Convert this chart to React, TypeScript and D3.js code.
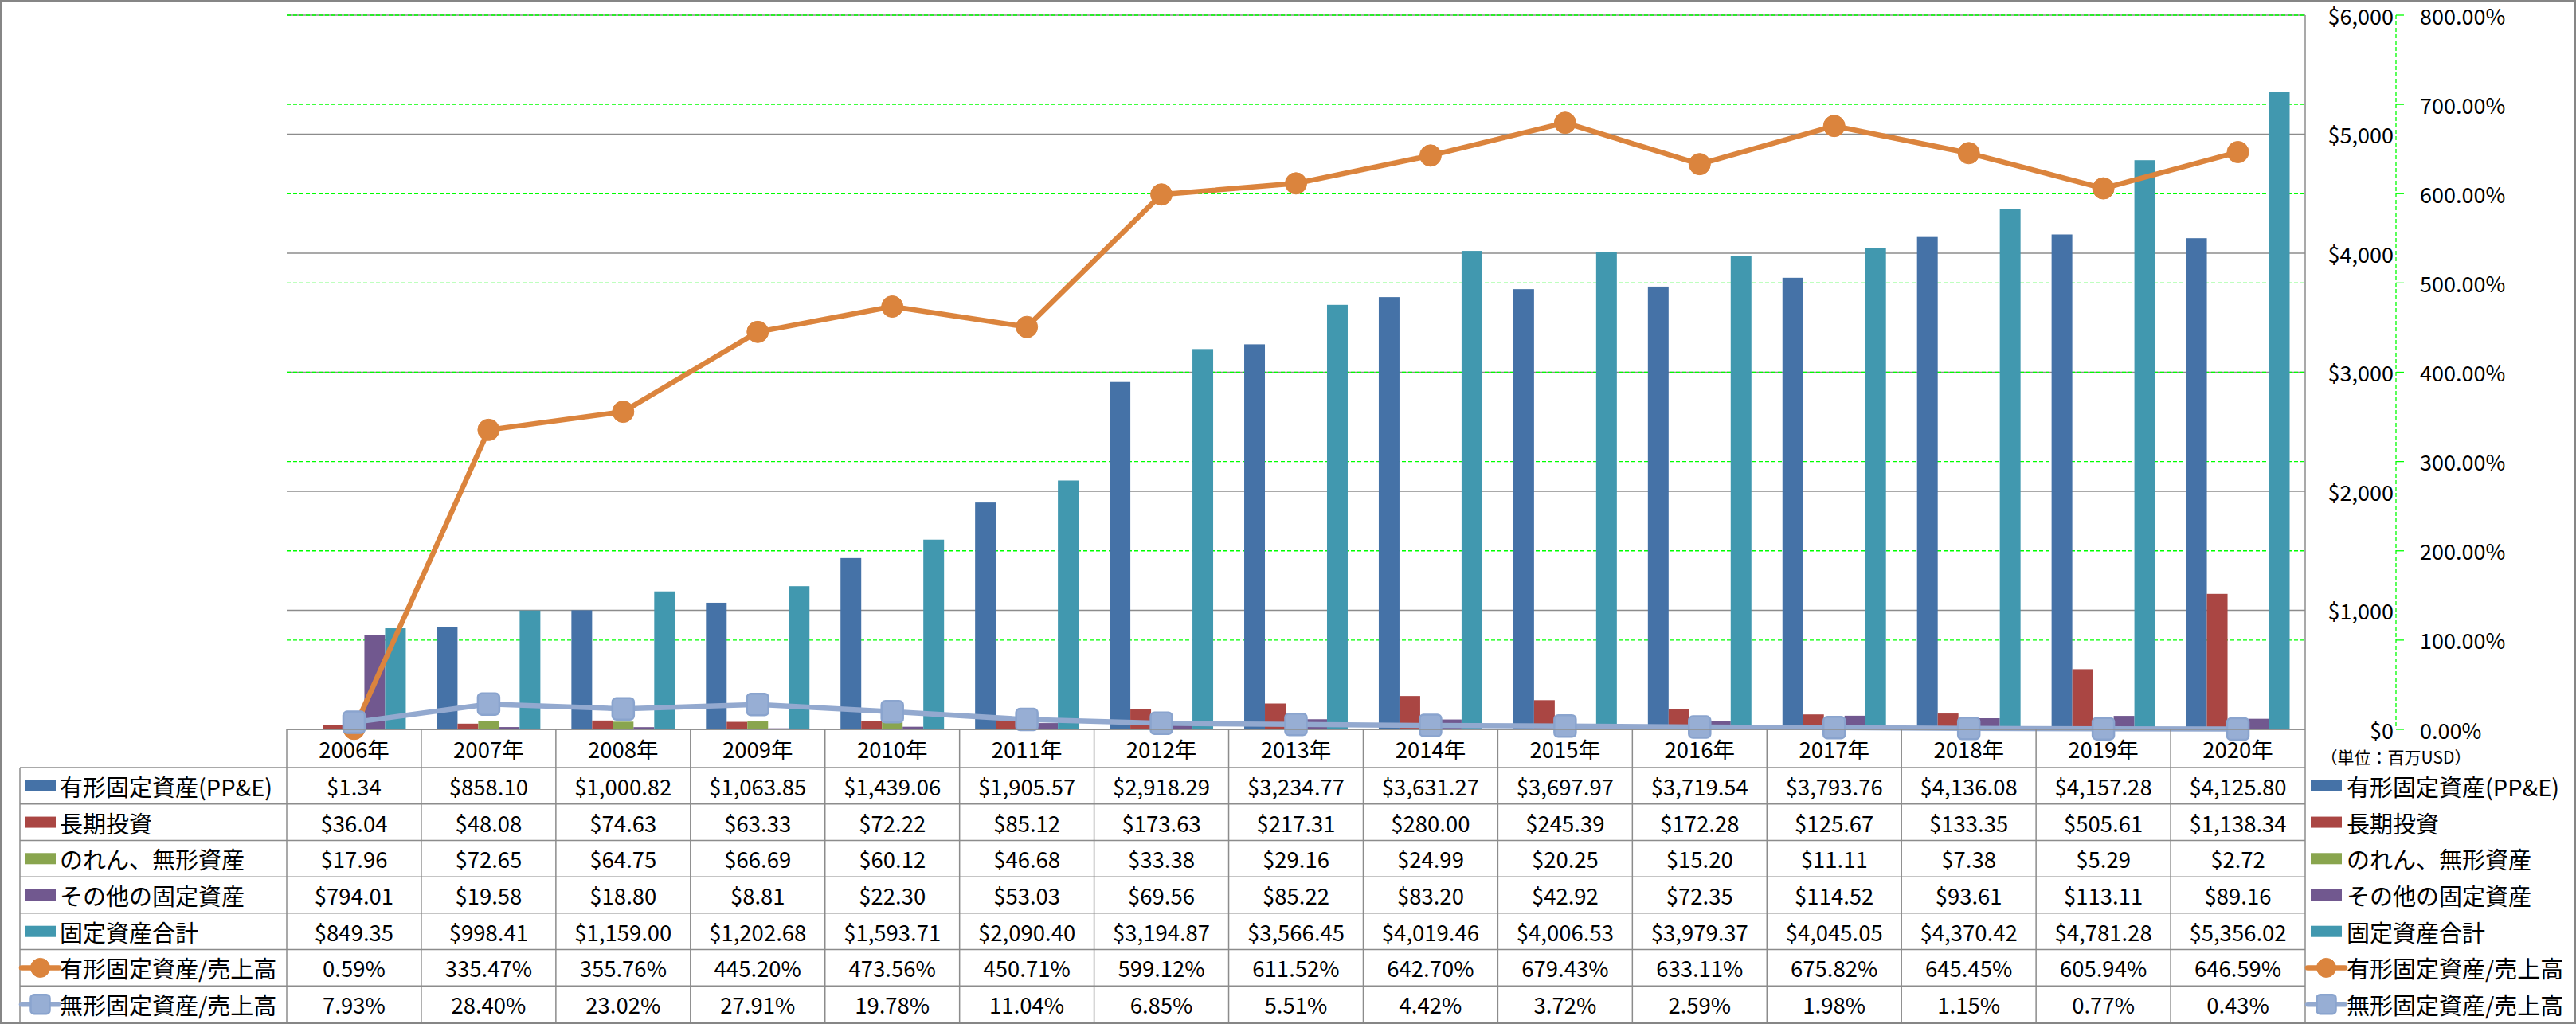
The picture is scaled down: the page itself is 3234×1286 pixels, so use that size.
import React from 'react';
import * as d3 from 'd3';

const years = ['2006年','2007年','2008年','2009年','2010年','2011年','2012年','2013年','2014年','2015年','2016年','2017年','2018年','2019年','2020年'];
const ppe = [1.34,858.10,1000.82,1063.85,1439.06,1905.57,2918.29,3234.77,3631.27,3697.97,3719.54,3793.76,4136.08,4157.28,4125.80];
const longInv = [36.04,48.08,74.63,63.33,72.22,85.12,173.63,217.31,280.00,245.39,172.28,125.67,133.35,505.61,1138.34];
const goodwill = [17.96,72.65,64.75,66.69,60.12,46.68,33.38,29.16,24.99,20.25,15.20,11.11,7.38,5.29,2.72];
const otherFixed = [794.01,19.58,18.80,8.81,22.30,53.03,69.56,85.22,83.20,42.92,72.35,114.52,93.61,113.11,89.16];
const totalFixed = [849.35,998.41,1159.00,1202.68,1593.71,2090.40,3194.87,3566.45,4019.46,4006.53,3979.37,4045.05,4370.42,4781.28,5356.02];
const ppeRatio = [0.59,335.47,355.76,445.20,473.56,450.71,599.12,611.52,642.70,679.43,633.11,675.82,645.45,605.94,646.59];
const intangRatio = [7.93,28.40,23.02,27.91,19.78,11.04,6.85,5.51,4.42,3.72,2.59,1.98,1.15,0.77,0.43];
const leftTicks = [0,1000,2000,3000,4000,5000,6000];
const rightTicks = [0,100,200,300,400,500,600,700,800];

const barSeries = [
  { name: '有形固定資産(PP&E)', color: '#4572A7', values: ppe },
  { name: '長期投資', color: '#AA4643', values: longInv },
  { name: 'のれん、無形資産', color: '#89A54E', values: goodwill },
  { name: 'その他の固定資産', color: '#71588F', values: otherFixed },
  { name: '固定資産合計', color: '#4198AF', values: totalFixed },
];
const lineSeries = [
  { name: '有形固定資産/売上高', color: '#DB843D', values: ppeRatio, marker: 'circle' },
  { name: '無形固定資産/売上高', color: '#93A9CF', values: intangRatio, marker: 'square' },
];

const W = 3234, H = 1286;
const PL = 360, PR = 2894, PT = 19, PB = 916;
const TABLE_BOTTOM = 1284;
const FONT = '"Noto Sans CJK JP", "Noto Sans", sans-serif';

function Marker({ kind, cx, cy, size, color }: any) {
  if (kind === 'circle') {
    return <circle cx={cx} cy={cy} r={size / 2} fill={color} stroke={color} strokeWidth={1} />;
  }
  return <rect x={cx - size / 2} y={cy - size / 2} width={size} height={size} rx={size * 0.18} fill="#97AED4" stroke="#8AA4CE" strokeWidth={2.5} />;
}

export default function App() {
  const x = d3.scaleBand<string>().domain(years).range([PL, PR]);
  const xb = d3.scaleBand<number>().domain(d3.range(barSeries.length)).range([0, x.bandwidth()]).paddingOuter(0.75);
  const y = d3.scaleLinear().domain([0, 6000]).range([PB, PT]);
  const y2 = d3.scaleLinear().domain([0, 800]).range([PB, PT]);
  const fmtD = d3.format('$,.2f');
  const fmtP = (v: number) => d3.format('.2f')(v) + '%';

  const rows = [
    ...barSeries.map(s => ({ name: s.name, type: 'bar', color: s.color, marker: '', texts: s.values.map(fmtD) })),
    ...lineSeries.map(s => ({ name: s.name, type: 'line', color: s.color, marker: s.marker, texts: s.values.map(fmtP) })),
  ];
  const ry = d3.scaleBand<string>().domain(rows.map(r => r.name)).range([964, TABLE_BOTTOM]);
  const cx = (i: number) => (x(years[i]) as number) + x.bandwidth() / 2;
  const gridColor = '#8C8C8C';

  const legendSymbol = (r: any, x0: number, cy: number) => {
    if (r.type === 'bar') return <rect x={x0} y={cy - 7} width={39} height={14} fill={r.color} />;
    return (
      <g>
        <line x1={x0 - 4} x2={x0 + 43} y1={cy} y2={cy} stroke={r.color} strokeWidth={6.5} strokeLinecap="round" />
        <Marker kind={r.marker} cx={x0 + 19.5} cy={cy} size={24} color={r.color} />
      </g>
    );
  };

  return (
    <div>
      <style>{`html,body{margin:0;padding:0;overflow:hidden;background:#fff}`}</style>
      <svg width={W} height={H} style={{ display: 'block', fontFamily: FONT }}>
        <rect x={0} y={0} width={W} height={H} fill="#fff" />
        {leftTicks.map(t => (
          <line key={'g' + t} x1={PL} x2={PR} y1={y(t)} y2={y(t)} stroke={gridColor} strokeWidth={1.3} />
        ))}
        {rightTicks.filter(t => t > 0).map(t => (
          <line key={'p' + t} x1={PL} x2={PR} y1={y2(t)} y2={y2(t)} stroke="#00FF00" strokeWidth={1.3} strokeDasharray="5,3" />
        ))}
        {barSeries.map((s, si) => (
          <g key={s.name}>
            {s.values.map((v, i) => (
              <rect key={i} x={(x(years[i]) as number) + (xb(si) as number)} y={y(v)} width={xb.bandwidth()} height={PB - y(v)} fill={s.color} />
            ))}
          </g>
        ))}
        <line x1={PR} x2={PR} y1={PT} y2={TABLE_BOTTOM} stroke={gridColor} strokeWidth={1.5} />
        {lineSeries.map(s => {
          const path = d3.line<number>().x((_, i) => cx(i)).y(v => y2(v))(s.values) as string;
          return (
            <g key={s.name}>
              <path d={path} fill="none" stroke={s.color} strokeWidth={6.5} strokeLinejoin="round" />
              {s.values.map((v, i) => (
                <Marker key={i} kind={s.marker} cx={cx(i)} cy={y2(v)} size={27} color={s.color} />
              ))}
            </g>
          );
        })}
        {leftTicks.map(t => (
          <text key={'l' + t} x={3005} y={y(t)} textAnchor="end" dominantBaseline="central" fontSize={27} fill="#000">
            {d3.format('$,')(t)}
          </text>
        ))}
        <line x1={3008} x2={3008} y1={PT} y2={PB} stroke="#00FF00" strokeWidth={1.3} strokeDasharray="5,3" />
        {rightTicks.map(t => (
          <g key={'r' + t}>
            <line x1={3008} x2={3018} y1={y2(t)} y2={y2(t)} stroke="#00FF00" strokeWidth={1.3} />
            <text x={3038} y={y2(t)} dominantBaseline="central" fontSize={27} fill="#000">{d3.format('.2f')(t) + '%'}</text>
          </g>
        ))}
        <text x={3008} y={950} textAnchor="middle" dominantBaseline="central" fontSize={21} fill="#000">（単位：百万USD）</text>

        <line x1={PL} x2={PR} y1={PB} y2={PB} stroke={gridColor} strokeWidth={1.5} />
        {rows.map(r => (
          <line key={'h' + r.name} x1={25} x2={PR} y1={ry(r.name)} y2={ry(r.name)} stroke={gridColor} strokeWidth={1.5} />
        ))}
        <line x1={25} x2={25} y1={964} y2={TABLE_BOTTOM} stroke={gridColor} strokeWidth={1.5} />
        {years.map(yr => (
          <line key={'v' + yr} x1={x(yr)} x2={x(yr)} y1={PB} y2={TABLE_BOTTOM} stroke={gridColor} strokeWidth={1.5} />
        ))}
        {years.map((yr, i) => (
          <text key={'yl' + yr} x={cx(i)} y={940} textAnchor="middle" dominantBaseline="central" fontSize={27.5} fill="#000">{yr}</text>
        ))}
        {rows.map(r => {
          const cy = (ry(r.name) as number) + ry.bandwidth() / 2;
          return (
            <g key={'row' + r.name}>
              {legendSymbol(r, 31, cy)}
              <text x={75} y={cy} dominantBaseline="central" fontSize={29} fill="#000">{r.name}</text>
              {r.texts.map((t, i) => (
                <text key={i} x={cx(i)} y={cy} textAnchor="middle" dominantBaseline="central" fontSize={27.5} fill="#000">{t}</text>
              ))}
              {legendSymbol(r, 2901, cy)}
              <text x={2946} y={cy} dominantBaseline="central" fontSize={29} fill="#000">{r.name}</text>
            </g>
          );
        })}
        <rect x={1.5} y={1.5} width={W - 3} height={H - 3} fill="none" stroke="#868686" strokeWidth={3} />
      </svg>
    </div>
  );
}
